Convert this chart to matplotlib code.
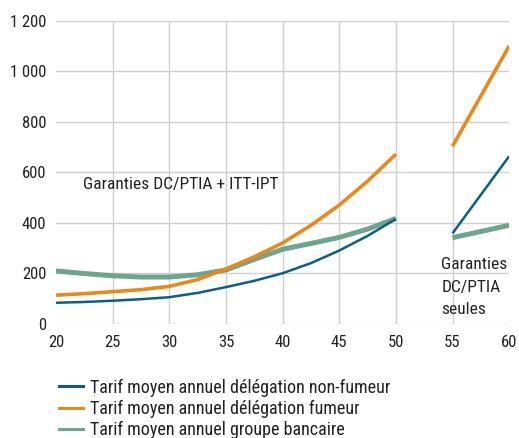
import numpy as np
import matplotlib
matplotlib.use("Agg")
import matplotlib.pyplot as plt

plt.rcParams['font.family'] = ['Roboto Condensed', 'DejaVu Sans']

# ages (two segments : avant 50 ans, puis 55-60)
ages_a = [20, 22.5, 25, 27.5, 30, 32.5, 35, 37.5, 40, 42.5, 45, 47.5, 50]
ages_b = [55, 60]

non_fumeur_a = [83, 86, 91, 97, 105, 122, 145, 170, 200, 240, 290, 348, 415]
non_fumeur_b = [358, 664]
fumeur_a = [113, 119, 127, 135, 148, 175, 217, 265, 320, 390, 470, 565, 672]
fumeur_b = [704, 1101]
bancaire_a = [209, 199, 190, 185, 185, 194, 213, 255, 295, 318, 342, 375, 417]
bancaire_b = [341, 390]

labels = ["Tarif moyen annuel délégation non-fumeur",
          "Tarif moyen annuel délégation fumeur",
          "Tarif moyen annuel groupe bancaire"]
couleurs = ["#0b5e85", "#e8891a", "#6ea58e"]
epaisseurs = [1.8, 2.6, 3.6]

x_ticks = [20, 25, 30, 35, 40, 45, 50, 55, 60]
y_ticks = [0, 200, 400, 600, 800, 1000, 1200]
y_labels = ["0", "200", "400", "600", "800", "1 000", "1 200"]

fig = plt.figure(figsize=(5.19, 4.38), dpi=100)
ax = fig.add_axes([0.108, 0.261, 0.873, 0.691])

# grille
for x in x_ticks[1:-1]:
    ax.axvline(x, color="#cfcfcf", lw=1.0, zorder=0)
for y in y_ticks:
    ax.axhline(y, color="#cfcfcf", lw=1.0, zorder=0)

series = [(non_fumeur_a, non_fumeur_b), (fumeur_a, fumeur_b), (bancaire_a, bancaire_b)]
ordre = [2, 1, 0]  # vert dessous
for i in ordre:
    a, b = series[i]
    ax.plot(ages_a, a, color=couleurs[i], lw=epaisseurs[i], solid_capstyle="butt", zorder=2 + (2 - i))
    ax.plot(ages_b, b, color=couleurs[i], lw=epaisseurs[i], solid_capstyle="butt", zorder=2 + (2 - i))

ax.set_xlim(20, 60)
ax.set_ylim(0, 1200)
ax.set_xticks(x_ticks)
ax.set_yticks(y_ticks)
ax.set_yticklabels(y_labels)
ax.tick_params(length=0, labelsize=12, colors="#222222")
ax.tick_params(axis="y", pad=7)
ax.tick_params(axis="x", pad=8)
for s in ax.spines.values():
    s.set_visible(False)

ax.text(22.4, 551, "Garanties DC/PTIA + ITT-IPT", fontsize=12.5, va="center", ha="left", color="#222222")
ax.text(54.0, 263, "Garanties\nDC/PTIA\nseules", fontsize=12.5, va="top", ha="left",
        color="#222222", linespacing=1.6)

poignees = [plt.Line2D([], [], color=couleurs[i], lw=2.2) for i in range(3)]
fig.legend(poignees, labels, loc="upper left", bbox_to_anchor=(0.1137, 0.1356),
           frameon=False, fontsize=13.0, handlelength=1.33, handletextpad=0.4,
           labelspacing=0.17, borderaxespad=0, borderpad=0, labelcolor="#222222")

fig.savefig("out.png", dpi=100)
